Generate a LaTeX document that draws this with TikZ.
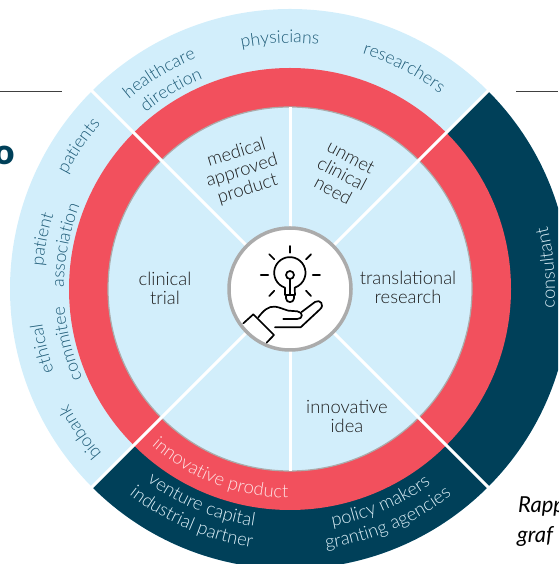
\documentclass[tikz,border=0pt]{standalone}
\usepackage{fontspec}
\setmainfont{Lato Light}
\newfontfamily\rapfont{Lato Italic}
\newfontfamily\boldfont{Lato Black}
\usetikzlibrary{decorations.text}
\definecolor{paleblue}{HTML}{D2EEFB}
\definecolor{ringred}{HTML}{F2505D}
\definecolor{deepblue}{HTML}{004059}
\definecolor{ringgray}{HTML}{ABABAB}
\definecolor{outertext}{HTML}{1F5C78}
\definecolor{innertext}{HTML}{1E1E1E}
\definecolor{lighttext}{HTML}{DCEFF7}
\definecolor{pinktext}{HTML}{FDE3E5}
\newcommand{\ofont}{\fontsize{17.6}{20}\selectfont}
\newcommand{\bfont}{\fontsize{18.4}{20}\selectfont}
% clockwise text: tops outward
\newcommand{\arcCW}[4]{\path[decorate,decoration={text along path,text color=#4,text align=center,text={|\ofont|#3}}]
  (O) ++({#1+45}:#2) arc[start angle={#1+45},end angle={#1-45},radius=#2];}
% counter-clockwise text: tops inward
\newcommand{\arcCCW}[4]{\path[decorate,decoration={text along path,text color=#4,text align=center,text={|\bfont|#3}}]
  (O) ++({#1-45}:#2) arc[start angle={#1-45},end angle={#1+45},radius=#2];}
\tikzset{
  sep/.style={draw=white,line width=3pt},
  inner label/.style={font=\fontsize{18.4}{19}\selectfont,text=innertext,align=center,inner sep=0pt},
  icon/.style={draw=black,line width=1.7pt,line cap=round,line join=round},
  rule/.style={draw=black!75,line width=0.8pt}
}
\begin{document}
\begin{tikzpicture}[x=1pt,y=1pt]
\useasboundingbox (0,0) rectangle (558,564);
\clip (0,0) rectangle (558,564);
\coordinate (O) at (290,275);
% rules
\coordinate (ruleLa) at (0,473); \coordinate (ruleLb) at (62,473);
\coordinate (ruleRa) at (516,473); \coordinate (ruleRb) at (558,473);
\draw[rule] (ruleLa) -- (ruleLb);
\draw[rule] (ruleRa) -- (ruleRb);
% clipped texts
\node[anchor=east,inner sep=0pt,text=deepblue,font=\boldfont\fontsize{35}{35}\selectfont] (oh) at (15,409) {o};
\node[anchor=base west,inner sep=0pt,font=\rapfont\fontsize{22}{24}\selectfont] (rap) at (518,51) {Rapp};
\node[anchor=base west,inner sep=0pt,font=\rapfont\fontsize{22}{24}\selectfont] (gra) at (517,21) {graf};
% rings
\fill[paleblue] (O) circle[radius=280];
\fill[deepblue] (O) -- ++(-135:280) arc[start angle=-135,end angle=45,radius=280] -- cycle;
\fill[ringred] (O) circle[radius=221];
\draw[ringgray,line width=1.2pt,fill=paleblue] (O) circle[radius=182];
% separators
\foreach \a in {45,135,225,315} \draw[sep] (O) -- ++(\a:281);
\foreach \a in {90,270} \draw[sep] (O) -- ++(\a:182);
% hub
\node[circle,draw=ringgray,fill=white,line width=3.5pt,minimum size=122pt,inner sep=0pt] (hub) at (O) {};
% icon: coordinates as zoom pixels
\begin{scope}[shift={(220,344)},x=0.3333pt,y=-0.3333pt,icon]
  \draw (210,78)--(210,98) (148,103)--(163,118) (273,103)--(258,118)
        (122,165)--(145,165) (278,165)--(300,165) (148,228)--(163,212) (273,228)--(258,212);
  \draw (195,225)--(195,203) arc[start angle=108,end angle=432,radius=47] --(225,225)--cycle;
  \draw (198,225)--(198,235) .. controls (198,250) and (222,250) .. (222,235) --(222,225);
  \draw (210,165) circle[radius=12];
  \draw (210,177)--(210,225);
  % cuff
  \draw (70,310)--(100,283)--(162,345)--(140,368);
  % palm and thumb
  \draw (115,292) .. controls (130,272) and (145,258) .. (165,260) .. controls (180,262) and (190,268) .. (205,272)
        --(232,274) .. controls (250,276) and (250,297) .. (232,297) --(190,297);
  % fingers
  \draw (245,276)--(285,246) .. controls (300,236) and (315,255) .. (300,268) --(242,322)--(165,322);
\end{scope}
% inner labels
\node[inner label,rotate=17] (approved) at (242,393) {medical\\approved\\product};
\node[inner label,rotate=-28] (unmet) at (342,390) {unmet\\clinical\\need};
\node[inner label] (trial) at (165,276) {clinical\\trial};
\node[inner label] (transl) at (408,277) {translational\\research};
\node[inner label] (idea) at (347,148) {innovative\\idea};
% arc labels
\arcCW{92.3}{246}{physicians}{outertext}
\arcCW{121.2}{249}{healthcare}{outertext}
\arcCW{120.8}{228}{direction}{outertext}
\arcCW{62.7}{246}{researchers}{outertext}
\arcCW{145.9}{251}{patients}{outertext}
\arcCW{168.6}{248}{patient}{outertext}
\arcCW{169}{226}{association}{outertext}
\arcCW{193.6}{250}{ethical}{outertext}
\arcCW{193.8}{226}{commitee}{outertext}
\arcCW{214.4}{250}{biobank}{outertext}
\arcCCW{249}{209}{innovative product}{pinktext}
\arcCCW{247.4}{240}{venture capital}{lighttext}
\arcCCW{246.8}{261}{industrial partner}{lighttext}
\arcCCW{293}{241}{policy makers}{lighttext}
\arcCCW{293}{262}{granting agencies}{lighttext}
\arcCCW{4.7}{265}{consultant}{lighttext}
\end{tikzpicture}
\end{document}
